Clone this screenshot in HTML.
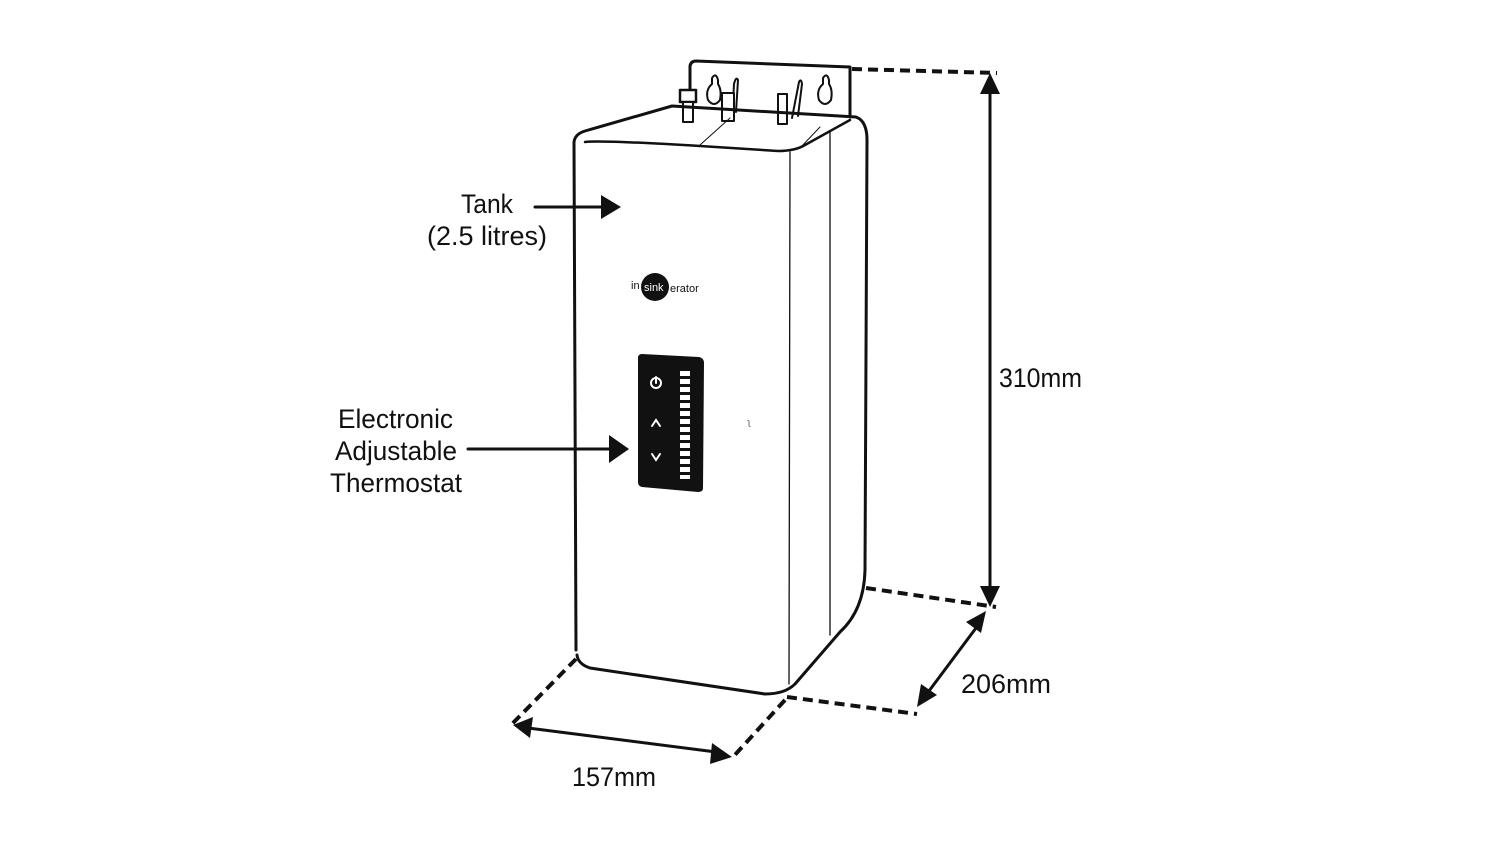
<!DOCTYPE html>
<html><head><style>html,body{margin:0;padding:0;background:#fff}svg{display:block}</style></head>
<body>
<svg width="1500" height="844" viewBox="0 0 1500 844" xmlns="http://www.w3.org/2000/svg" font-family="Liberation Sans, sans-serif">
<defs>
<marker id="ah" markerWidth="10" markerHeight="10" refX="9" refY="5" orient="auto" markerUnits="userSpaceOnUse"><path d="M0,0 L0,0"/></marker>
</defs>
<g fill="none" stroke="#111" stroke-width="3" stroke-linejoin="round" stroke-linecap="round">
<!-- backplate -->
<path d="M690,95 L690,66 Q691,61 696,61 L850,67 L850,117"/>
<!-- keyhole slots -->
<path d="M712,78 Q716,72 718,80 L718,84 Q722,90 720,100 Q714,108 708,100 Q705,90 712,84 Z" stroke-width="2"/>
<path d="M823,78 Q827,72 829,80 L829,84 Q833,90 831,100 Q825,108 819,100 Q816,90 823,84 Z" stroke-width="2"/>
<path d="M732,120 L734,84 Q736,76 738,80 L736,112" stroke-width="2"/>
<path d="M792,118 L799,82 Q801,78 802,84 L798,116" stroke-width="2"/>
<!-- fittings -->
<rect x="680" y="90" width="16" height="12" stroke-width="2.5" fill="#fff"/>
<rect x="683" y="102" width="10" height="20" stroke-width="2" fill="#fff"/>
<rect x="722" y="93" width="12" height="28" stroke-width="2" fill="#fff"/>
<rect x="778" y="94" width="9" height="30" stroke-width="2" fill="#fff"/>
<!-- tank outline -->
<path d="M576,650 L574,142 Q575,134 585,131 L672,106 L856,117 Q867,121 867,140 L865,570 Q864,610 840,632 L795,684 Q785,694 765,694 L590,668 Q578,664 577,655"/>
<!-- front top edge -->
<path d="M585,142 Q600,140 700,146 L778,151 Q795,151 805,145 L850,120" stroke-width="2.5"/>
<path d="M700,145 L730,118" stroke-width="1"/>
<path d="M800,148 L820,127" stroke-width="1"/>
<!-- vertical thin lines -->
<line x1="790" y1="152" x2="789" y2="684" stroke-width="1.3"/>
<line x1="830" y1="132" x2="830" y2="635" stroke-width="1.3"/>
<!-- dashed extension lines -->
<g stroke-dasharray="10,6" stroke-width="4" stroke-linecap="butt">
<line x1="852" y1="69" x2="997" y2="73"/>
<line x1="866" y1="588" x2="996" y2="607"/>
<line x1="787" y1="697" x2="917" y2="714"/>
<line x1="576" y1="659" x2="512" y2="724"/>
<line x1="785" y1="700" x2="733" y2="757"/>
</g>
<!-- dimension lines -->
<line x1="990" y1="90" x2="990" y2="590" stroke-width="3"/>
<line x1="976" y1="628" x2="926" y2="695" stroke-width="3"/>
<line x1="528" y1="728" x2="716" y2="752" stroke-width="3"/>
<!-- label arrows -->
<line x1="535" y1="207" x2="605" y2="207" stroke-width="3"/>
<line x1="468" y1="449" x2="612" y2="449" stroke-width="3"/>
</g>
<g fill="#111">
<polygon points="990,73 980,94 1000,94"/>
<polygon points="990,607 980,586 1000,586"/>
<polygon points="986,611 966,622 981,633"/>
<polygon points="917,707 921,684 937,695"/>
<polygon points="513,725 533,717 530,738"/>
<polygon points="732,757 712,743 710,764"/>
<polygon points="621,207 601,195 601,219"/>
<polygon points="629,449 609,435 609,463"/>
<!-- control panel -->
<path d="M642,354 L699,357 Q704,358 704,363 L703,488 Q703,492 698,492 L642,487 Q638,486 638,482 L638,358 Q638,354 642,354 Z"/>
<!-- logo -->
<circle cx="655" cy="287" r="14"/>
</g>
<g fill="#fff">
<rect x="680" y="371" width="10" height="5"/><rect x="680" y="379" width="10" height="5"/><rect x="680" y="387" width="10" height="5"/><rect x="680" y="395" width="10" height="5"/><rect x="680" y="403" width="10" height="5"/><rect x="680" y="411" width="10" height="5"/><rect x="680" y="419" width="10" height="5"/><rect x="680" y="427" width="10" height="5"/><rect x="680" y="435" width="10" height="5"/><rect x="680" y="443" width="10" height="5"/><rect x="680" y="451" width="10" height="5"/><rect x="680" y="459" width="10" height="5"/><rect x="680" y="467" width="10" height="5"/><rect x="680" y="475" width="10" height="4"/>
</g>
<g stroke="#fff" stroke-width="2" fill="none" stroke-linecap="round">
<circle cx="656" cy="383" r="5"/><line x1="656" y1="377" x2="656" y2="383"/>
<path d="M652,426 L656,420 L660,426"/>
<path d="M652,454 L656,460 L660,454"/>
</g>
<text x="631" y="289" font-size="11" fill="#111">in</text>
<text x="644" y="291" font-size="11" fill="#fff">sink</text>
<text x="670" y="292" font-size="11" fill="#111">erator</text>
<text x="748" y="425" font-size="9" fill="#555">ʅ</text>
<g font-size="27" fill="#111">
<text x="461" y="213" textLength="52" lengthAdjust="spacingAndGlyphs">Tank</text>
<text x="427" y="245" textLength="120" lengthAdjust="spacingAndGlyphs">(2.5 litres)</text>
<text x="338" y="428" textLength="115" lengthAdjust="spacingAndGlyphs">Electronic</text>
<text x="335" y="460" textLength="122" lengthAdjust="spacingAndGlyphs">Adjustable</text>
<text x="330" y="492" textLength="132" lengthAdjust="spacingAndGlyphs">Thermostat</text>
<text x="999" y="387" textLength="83" lengthAdjust="spacingAndGlyphs">310mm</text>
<text x="961" y="693" textLength="90" lengthAdjust="spacingAndGlyphs">206mm</text>
<text x="572" y="786" textLength="84" lengthAdjust="spacingAndGlyphs">157mm</text>
</g>
</svg>
</body></html>
